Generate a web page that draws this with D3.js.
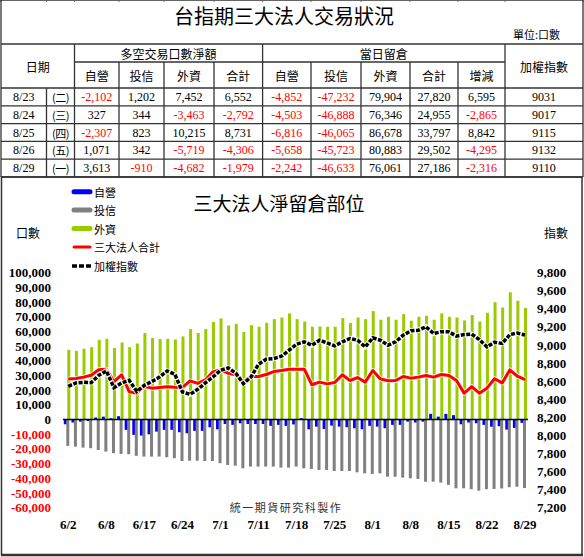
<!DOCTYPE html>
<html><head><meta charset="utf-8">
<script src="https://cdn.jsdelivr.net/npm/d3@7"></script>
<style>body{margin:0;background:#fff}</style>
</head><body>
<svg id="c" width="584" height="557"></svg>
<script>
// ---------- chart data ----------
const dates = ["6/2","6/3","6/4","6/6","6/7","6/8","6/13","6/14","6/15","6/16","6/17","6/20","6/21","6/22","6/23","6/24","6/27","6/28","6/29","6/30",
"7/1","7/4","7/5","7/6","7/7","7/11","7/12","7/13","7/14","7/15","7/18","7/19","7/20","7/21","7/22","7/25","7/26","7/27","7/28","7/29",
"8/1","8/2","8/3","8/4","8/5","8/8","8/9","8/10","8/11","8/12","8/15","8/16","8/17","8/18","8/19","8/22","8/23","8/24","8/25","8/26","8/29"];
const xTickLabels = ["6/2","6/8","6/17","6/24","7/1","7/11","7/18","7/25","8/1","8/8","8/15","8/22","8/29"];
const dealer = [-3200,-2000,-1400,-1000,1400,2000,900,2300,-7000,-10400,
-10900,-10000,-8200,-7000,-7000,-8600,-9300,-7700,-7700,-5200,
-6600,-3000,-3600,-2500,-3000,-3000,-3000,-4300,-3600,-4300,
-3300,1000,-6600,-4800,-6400,-4100,-4800,-5200,-5900,-6600,
-4300,-4800,-5900,-3600,-3600,-1400,-2000,-1400,3900,2000,
3900,3000,-3200,-2000,-2500,-3600,-4852,-4503,-6816,-5658,-2242];
const trust = [-17900,-18400,-19100,-19500,-20700,-21800,-22900,-23400,-23600,-24700,
-25200,-25200,-25200,-25600,-26300,-28200,-28000,-28000,-28200,-28200,
-29700,-30900,-31400,-33200,-32000,-32000,-32000,-32000,-32700,-32700,
-32000,-33200,-33600,-34300,-34300,-35000,-35000,-35000,-35900,-36600,
-37000,-36600,-38900,-38900,-39500,-40000,-40400,-42300,-42300,-42900,
-44500,-46800,-46800,-47400,-48400,-47400,-47232,-46888,-46065,-45723,-46633];
const foreign = [47500,46800,48200,49300,54300,55000,48700,52500,49300,51800,
58900,55500,54800,55000,54500,56600,61600,58900,61600,66400,
68900,64100,65200,59600,64300,63200,65900,68400,69500,72300,
68400,66800,63200,63400,63200,63200,69100,65700,69500,68400,
73900,68000,70000,68000,71800,67300,70000,70700,68000,72300,
70000,69500,67500,71200,66800,72700,79904,76346,86678,80883,76061];
const total = [27700,27900,28900,30200,33900,34300,25900,30500,19000,18000,
22500,21400,21800,22300,22000,21900,26400,24600,27000,32500,
33900,31600,30500,25700,29300,29300,30700,32700,33400,34300,
34300,34300,23700,25500,24300,25200,30500,26600,28600,25500,
33400,27700,26400,26600,29300,28200,28900,30000,28900,30700,
30000,26600,18000,22500,18000,21400,27820,24955,33797,29502,27186];
const taiex = [8543,8580,8587,8583,8665,8713,8528,8580,8610,8487,
8554,8598,8646,8713,8676,8480,8454,8510,8580,8646,
8720,8746,8690,8573,8646,8787,8843,8850,8876,8942,
9009,9035,8998,9053,9023,8990,9035,9072,9053,8979,
9079,9053,8998,9035,9109,9157,9164,9201,9127,9146,
9146,9098,9116,9120,9061,8979,9031,9017,9115,9132,9110];
const leftTicks = [100000,90000,80000,70000,60000,50000,40000,30000,20000,10000,0,-10000,-20000,-30000,-40000,-50000,-60000];
const rightTicks = [9800,9600,9400,9200,9000,8800,8600,8400,8200,8000,7800,7600,7400,7200];
const legendNames = ["自營","投信","外資","三大法人合計","加權指數"];

// ---------- table data ----------
const tDates = ["8/23","8/24","8/25","8/26","8/29"];
const tWeek = ["(二)","(三)","(四)","(五)","(一)"];
const netDealer = [-2102,327,-2307,1071,3613];
const netTrust = [1202,344,823,342,-910];
const netForeign = [7452,-3463,10215,-5719,-4682];
const netTotal = [6552,-2792,8731,-4306,-1979];
const oiDealer = [-4852,-4503,-6816,-5658,-2242];
const oiTrust = [-47232,-46888,-46065,-45723,-46633];
const oiForeign = [79904,76346,86678,80883,76061];
const oiTotal = [27820,24955,33797,29502,27186];
const oiChange = [6595,-2865,8842,-4295,-2316];
const tIndex = [9031,9017,9115,9132,9110];
const subHeads = ["自營","投信","外資","合計","自營","投信","外資","合計","增減"];

const svg = d3.select("#c");
const CJK = "'Noto Sans CJK TC','Noto Sans CJK SC',sans-serif";
const SERIF = "'Liberation Serif','Times New Roman',serif";
const fmt = d3.format(",");

// ---------- table ----------
const colX = [1,46.5,74.5,119,164,214,262.6,311,361,410,458,505,583];
const yTop = 44, ySub = 62, yHead = 88, rowH = 17.8;
const tbl = svg.append("g");
const line = (x1,y1,x2,y2,w=1.3,c="#333") => tbl.append("line").attr("x1",x1).attr("y1",y1).attr("x2",x2).attr("y2",y2).attr("stroke",c).attr("stroke-width",w);
const yBottom = yHead + rowH*5;
line(0,0.5,583,0.5,1,"#666");
colX.forEach(x=>line(x,0,x,2,1,"#666"));
line(1,0,1,yBottom); line(583,0,583,yTop);
tbl.append("text").attr("x",284).attr("y",15).attr("text-anchor","middle").attr("dominant-baseline","central")
  .attr("font-family",CJK).attr("font-size",20).text("台指期三大法人交易狀況");
tbl.append("text").attr("x",560).attr("y",34).attr("text-anchor","end").attr("dominant-baseline","central")
  .attr("font-family",CJK).attr("font-size",11).text("單位:口數");
line(1,yTop,583,yTop);
line(colX[2],ySub,colX[11],ySub);
line(1,yHead,colX[12],yHead);
for(let r=1;r<=5;r++) line(1,yHead+rowH*r,colX[12],yHead+rowH*r);
[2,6,11,12].forEach(i=>line(colX[i],yTop,colX[i],yBottom));
[3,4,5,7,8,9,10].forEach(i=>line(colX[i],ySub,colX[i],yBottom));
line(colX[1],yHead,colX[1],yBottom);
const htext = (x,y,t) => tbl.append("text").attr("x",x).attr("y",y).attr("text-anchor","middle").attr("dominant-baseline","central").attr("font-family",CJK).attr("font-size",12).text(t);
htext((colX[0]+colX[2])/2,(yTop+yHead)/2,"日期");
htext((colX[2]+colX[6])/2,(yTop+ySub)/2,"多空交易口數淨額");
htext((colX[6]+colX[11])/2,(yTop+ySub)/2,"當日留倉");
htext((colX[11]+colX[12])/2,(yTop+yHead)/2,"加權指數");
subHeads.forEach((t,i)=>htext((colX[i+2]+colX[i+3])/2,(ySub+yHead)/2,t));
const cols = [netDealer,netTrust,netForeign,netTotal,oiDealer,oiTrust,oiForeign,oiTotal,oiChange];
tDates.forEach((d,r)=>{
  const cy = yHead + rowH*r + rowH/2;
  const dt = (x,t,col,fam,fs) => tbl.append("text").attr("x",x).attr("y",cy).attr("text-anchor","middle").attr("dominant-baseline","central")
     .attr("font-family",fam).attr("font-size",fs).attr("fill",col).text(t);
  dt((colX[0]+colX[1])/2,d,"#000",SERIF,12);
  dt((colX[1]+colX[2])/2,tWeek[r],"#000",CJK,11).attr("letter-spacing",-0.5);
  cols.forEach((arr,c)=>{
    const v = arr[r];
    dt((colX[c+2]+colX[c+3])/2,fmt(v).replace("−","-"),v<0?"#ff0000":"#000",SERIF,12);
  });
  dt((colX[11]+colX[12])/2,tIndex[r],"#000",SERIF,12);
});

// ---------- chart frame ----------
svg.append("rect").attr("x",1.5).attr("y",yBottom).attr("width",580.5).attr("height",555-yBottom)
  .attr("fill","none").attr("stroke","#333").attr("stroke-width",1.5);
svg.append("line").attr("x1",1).attr("x2",583).attr("y1",555).attr("y2",555).attr("stroke","#333").attr("stroke-width",2.5);

// ---------- scales ----------
const x = d3.scalePoint().domain(dates).range([68.3,525]);
const yL = d3.scaleLinear().domain([-60000,100000]).range([507.7,272.7]);
const yR = d3.scaleLinear().domain([7200,9800]).range([507.7,272.7]);

svg.append("text").attr("x",279).attr("y",202).attr("text-anchor","middle").attr("dominant-baseline","central")
  .attr("font-family",CJK).attr("font-size",19).text("三大法人淨留倉部位");

// axes labels
const gl = svg.append("g");
leftTicks.forEach(v=>{
  gl.append("text").attr("x",51).attr("y",yL(v)).attr("text-anchor","end").attr("dominant-baseline","central")
   .attr("font-family",SERIF).attr("font-weight","bold").attr("font-size",13).attr("fill",v<0?"#ff0000":"#000")
   .text(fmt(v).replace("−","-"));
});
rightTicks.forEach(v=>{
  gl.append("text").attr("x",537).attr("y",yR(v)).attr("text-anchor","start").attr("dominant-baseline","central")
   .attr("font-family",SERIF).attr("font-weight","bold").attr("font-size",13).attr("fill","#000").text(fmt(v));
});
xTickLabels.forEach(d=>{
  gl.append("text").attr("x",x(d)).attr("y",524).attr("text-anchor","middle").attr("dominant-baseline","central")
   .attr("font-family",SERIF).attr("font-weight","bold").attr("font-size",13).text(d);
});
svg.append("text").attr("x",28).attr("y",232).attr("text-anchor","middle").attr("dominant-baseline","central")
  .attr("font-family",CJK).attr("font-size",12).text("口數");
svg.append("text").attr("x",556).attr("y",232).attr("text-anchor","middle").attr("dominant-baseline","central")
  .attr("font-family",CJK).attr("font-size",12).text("指數");
svg.append("text").attr("x",286).attr("y",507).attr("text-anchor","middle").attr("dominant-baseline","central")
  .attr("font-family",CJK).attr("font-size",11).attr("letter-spacing",1.5).attr("fill","#333").text("統一期貨研究科製作");

// bars
const bw = 3;
const bars = svg.append("g");
const barSet = (arr,off,color) => bars.append("g").selectAll("rect").data(arr).join("rect")
  .attr("x",(v,i)=>x(dates[i])+off-bw/2).attr("width",bw)
  .attr("y",v=>Math.min(yL(v),yL(0))).attr("height",v=>Math.abs(yL(v)-yL(0)))
  .attr("fill",color);
barSet(dealer,-3,"#0000ff");
barSet(trust,-0.5,"#808080");
barSet(foreign,0.5,"#99cc00");

svg.append("line").attr("x1",63).attr("x2",528).attr("y1",yL(0)).attr("y2",yL(0)).attr("stroke","#000").attr("stroke-width",1.5);

// lines
const lTot = d3.line().x((v,i)=>x(dates[i])).y(v=>yL(v));
const lIdx = d3.line().x((v,i)=>x(dates[i])).y(v=>yR(v));
svg.append("path").attr("d",lTot(total)).attr("fill","none").attr("stroke","#fff").attr("stroke-opacity",0.7).attr("stroke-width",5).attr("stroke-linejoin","round");
svg.append("path").attr("d",lTot(total)).attr("fill","none").attr("stroke","#ff0000").attr("stroke-width",3).attr("stroke-linejoin","round");
svg.append("path").attr("d",lIdx(taiex)).attr("fill","none").attr("stroke","#fff").attr("stroke-opacity",0.8).attr("stroke-width",5.5).attr("stroke-linejoin","round");
svg.append("path").attr("d",lIdx(taiex)).attr("fill","none").attr("stroke","#000").attr("stroke-width",3.5).attr("stroke-dasharray","4,1.5");

// legend
const legColors = ["#0000ff","#808080","#99cc00","#ff0000","#000"];
const legY = [191.7,210,228.5,247,266];
legendNames.forEach((n,i)=>{
  const g = svg.append("g");
  if(i<4){
    g.append("line").attr("x1",74).attr("x2",90).attr("y1",legY[i]).attr("y2",legY[i])
     .attr("stroke",legColors[i]).attr("stroke-width",i===3?3:5).attr("stroke-linecap","round");
  } else {
    g.append("line").attr("x1",72).attr("x2",92).attr("y1",legY[i]).attr("y2",legY[i])
     .attr("stroke","#000").attr("stroke-width",3.5).attr("stroke-dasharray","5,2");
  }
  g.append("text").attr("x",94).attr("y",legY[i]).attr("dominant-baseline","central")
   .attr("font-family",CJK).attr("font-size",11).text(n);
});
</script>
</body></html>
